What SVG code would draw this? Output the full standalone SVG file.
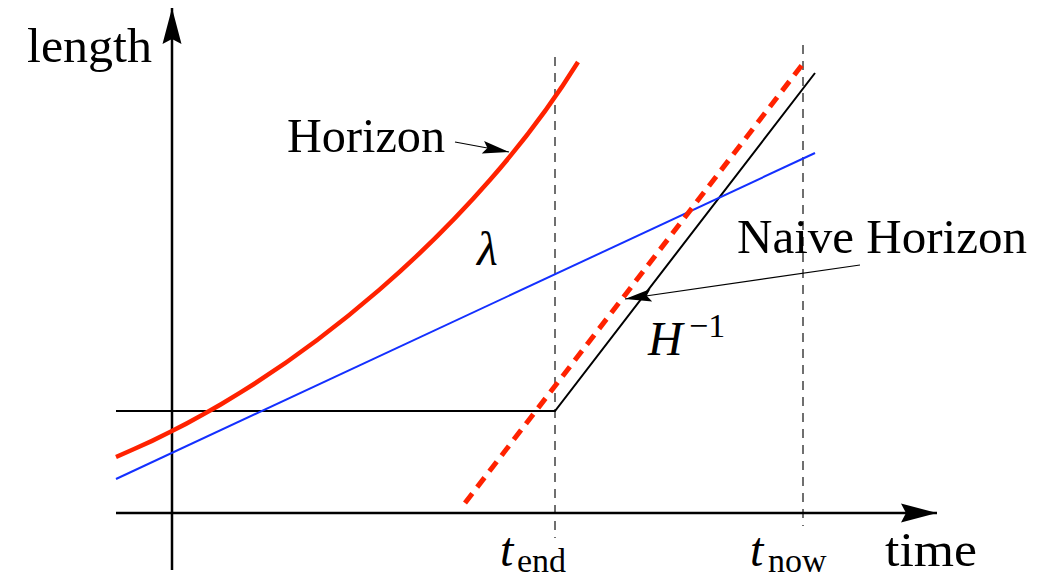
<svg xmlns="http://www.w3.org/2000/svg" width="1039" height="580" viewBox="0 0 1039 580">
<style>
.txt{font-family:"Liberation Serif","DejaVu Serif",serif;fill:#000}
.it{font-style:italic}
.axis{stroke:#000;stroke-width:2.5;fill:none}
.guide{stroke:#333;stroke-width:1.4;stroke-dasharray:9,7;fill:none}
.blk{stroke:#000;stroke-width:2;fill:none}
.red{stroke:#ff2200;stroke-width:4.5;fill:none}
.reddash{stroke:#ff2200;stroke-width:5;stroke-dasharray:12,8;fill:none}
.blue{stroke:#1430ff;stroke-width:2;fill:none}
.thin{stroke:#000;stroke-width:1.2;fill:none}
</style>
<defs>
<marker id="bigArrow" markerUnits="userSpaceOnUse" markerWidth="40" markerHeight="24" viewBox="-36 -10 40 20" refX="0" refY="0" orient="auto" overflow="visible">
<path d="M0,0 L-36,-9.5 L-31,0 L-36,9.5 Z" fill="#000"/>
</marker>
<marker id="smallArrow" markerUnits="userSpaceOnUse" markerWidth="30" markerHeight="16" viewBox="-24 -6 26 12" refX="0" refY="0" orient="auto" overflow="visible">
<path d="M0,0 L-23,-5.5 L-19,0 L-23,5.5 Z" fill="#000"/>
</marker>
</defs>
<g id="guides">
<line class="guide" x1="555" y1="57" x2="555" y2="538"/>
<line class="guide" x1="803" y1="45" x2="803" y2="526"/>
</g>
<g id="axes">
<line class="axis" x1="172" y1="570" x2="172" y2="8" marker-end="url(#bigArrow)"/>
<line class="axis" x1="116" y1="513" x2="937" y2="513" marker-end="url(#bigArrow)"/>
</g>
<g id="curves">
<path id="h-inverse" class="blk" d="M116,411 L555,411 L815,73"/>
<line id="naive-horizon" class="blue" x1="116" y1="479" x2="815" y2="153"/>
<line id="horizon-dashed" class="reddash" x1="465" y1="503" x2="802" y2="65"/>
<path id="horizon" class="red" d="M116,457 C300,380 480,220 578,62"/>
</g>
<g id="connectors">
<line class="thin" x1="455" y1="142" x2="509" y2="152" marker-end="url(#smallArrow)"/>
<line class="thin" x1="860" y1="265" x2="625" y2="299" marker-end="url(#smallArrow)"/>
</g>
<g id="labels">
<text class="txt" x="27" y="62" font-size="48" textLength="125" lengthAdjust="spacingAndGlyphs">length</text>
<text class="txt" x="287" y="152" font-size="48" textLength="158" lengthAdjust="spacingAndGlyphs">Horizon</text>
<text class="txt" x="737" y="253" font-size="48" textLength="290" lengthAdjust="spacingAndGlyphs">Naive Horizon</text>
<text class="txt it" x="477" y="265" font-size="48">λ</text>
<text class="txt it" x="648" y="355" font-size="48">H</text>
<text class="txt" x="689" y="337" font-size="34">−1</text>
<text class="txt it" x="500" y="566" font-size="48">t</text>
<text class="txt" x="517" y="572" font-size="34">end</text>
<text class="txt it" x="750" y="566" font-size="48">t</text>
<text class="txt" x="768" y="572" font-size="34">now</text>
<text class="txt" x="885" y="566" font-size="48" textLength="92" lengthAdjust="spacingAndGlyphs">time</text>
</g>
</svg>
